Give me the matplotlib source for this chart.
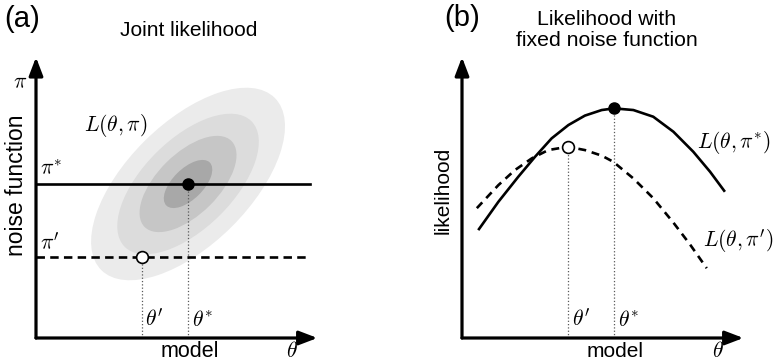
import matplotlib.pyplot as plt
from matplotlib.patches import Ellipse

plt.rcParams['font.family'] = ['Liberation Sans', 'DejaVu Sans']
plt.rcParams['mathtext.fontset'] = 'cm'

# Fitted and fixed parameter values (same units on both panels)
theta_star = 5.43
theta_prime = 3.79
pi_star = 5.54
pi_prime = 2.91

# Joint likelihood contours: outer semi-axes and relative level sizes
joint_semi_major = 4.38
joint_semi_minor = 2.19
joint_angle = 45
joint_levels = [1.0, 0.73, 0.5, 0.25]

# Likelihood along theta with pi fixed at pi*
theta_on_star = [0.58, 1.30, 2.01, 2.61, 3.20, 3.80, 4.39, 4.99, 5.43,
                 6.12, 6.83, 7.55, 8.26, 8.86, 9.39]
lik_star = [3.88, 4.90, 5.80, 6.52, 7.18, 7.66, 8.00, 8.20, 8.26,
            8.20, 7.96, 7.42, 6.70, 5.98, 5.26]

# Likelihood along theta with pi fixed at pi'
theta_on_prime = [0.53, 1.30, 1.89, 2.49, 3.08, 3.78, 4.39, 4.99, 5.40,
                  6.12, 6.83, 7.55, 8.14, 8.74]
lik_prime = [4.67, 5.50, 6.04, 6.46, 6.76, 6.88, 6.76, 6.56, 6.34,
             5.74, 5.03, 4.15, 3.37, 2.51]

W, H = 774, 363
SHADES = ['#ebebeb', '#dcdcdc', '#c6c6c6', '#a8a8a8']
LW = 1.9


def fig_xy(px, py):
    return px / W, 1 - py / H


def draw_axes_arrows(ax):
    style = '-|>,head_length=1.1,head_width=0.42'
    for tip in [(10.05, 0), (0, 10.1)]:
        ax.annotate('', xy=tip, xytext=(0, 0), annotation_clip=False,
                    arrowprops=dict(arrowstyle=style, mutation_scale=10,
                                    lw=2.3, color='k', shrinkA=0, shrinkB=0))


def setup_axes(fig, left_px):
    ax = fig.add_axes([left_px / W, 25 / H, 280 / W, 278 / H])
    ax.set_xlim(0, 10)
    ax.set_ylim(0, 10)
    ax.axis('off')
    draw_axes_arrows(ax)
    return ax


def label(ax, x, y, s, size=15.5, **kw):
    ax.text(x, y, s, fontsize=size, clip_on=False, **kw)


fig = plt.figure(figsize=(W / 100, H / 100), dpi=100)

# (a) joint likelihood over model and noise function
ax = setup_axes(fig, 36)
for scale, shade in zip(joint_levels, SHADES):
    ax.add_patch(Ellipse((theta_star, pi_star),
                         2 * joint_semi_major * scale,
                         2 * joint_semi_minor * scale,
                         angle=joint_angle, color=shade, lw=0, zorder=1))
ax.plot([0, 9.8], [pi_star, pi_star], color='k', lw=LW, zorder=3)
ax.plot([0, 9.8], [pi_prime, pi_prime], color='k', lw=LW,
        dashes=(3.2, 2.0), zorder=3)
ax.plot([theta_star, theta_star], [0, pi_star], ':', color='0.35',
        lw=0.9, zorder=2)
ax.plot([theta_prime, theta_prime], [0, pi_prime], ':', color='0.35',
        lw=0.9, zorder=2)
ax.plot(theta_star, pi_star, 'o', ms=8, color='k', zorder=4)
ax.plot(theta_prime, pi_prime, 'o', ms=8.5, mfc='white', mec='k',
        mew=1.2, zorder=4)

label(ax, -0.57, 9.2, r'$\pi$', ha='center', va='center')
label(ax, -0.68, 5.5, 'noise function', size=16.5, rotation=90,
      ha='center', va='center')
label(ax, 2.86, 7.66, r'$L(\theta,\pi)$', ha='center', va='center')
label(ax, 0.14, pi_star + 0.12, r'$\pi^{*}$', ha='left', va='bottom')
label(ax, 0.14, pi_prime + 0.12, r'$\pi^\prime$', ha='left', va='bottom')
label(ax, theta_prime + 0.1, 0.25, r'$\theta^\prime$', ha='left',
      va='bottom')
label(ax, theta_star + 0.14, 0.25, r'$\theta^{*}$', ha='left', va='bottom')
label(ax, 5.5, -0.5, 'model', ha='center', va='center')
label(ax, 9.14, -0.5, r'$\theta$', ha='center', va='center')

# (b) likelihood with the noise function held fixed
bx = setup_axes(fig, 462)
bx.plot(theta_on_star, lik_star, color='k', lw=LW, zorder=3,
        solid_capstyle='butt')
bx.plot(theta_on_prime, lik_prime, color='k', lw=LW, dashes=(3.0, 2.2),
        zorder=3)
bx.plot([theta_star, theta_star], [0, max(lik_star)], ':', color='0.35',
        lw=0.9, zorder=2)
bx.plot([theta_prime, theta_prime], [0, max(lik_prime)], ':',
        color='0.35', lw=0.9, zorder=2)
bx.plot(theta_star, max(lik_star), 'o', ms=8, color='k', zorder=4)
bx.plot(theta_prime, max(lik_prime), 'o', ms=8.5, mfc='white', mec='k',
        mew=1.2, zorder=4)

label(bx, -0.68, 5.32, 'likelihood', size=15, rotation=90, ha='center',
      va='center')
label(bx, 8.39, 7.05, r'$L(\theta,\pi^{*})$', ha='left', va='center')
label(bx, 8.62, 3.49, r'$L(\theta,\pi^\prime)$', ha='left', va='center')
label(bx, theta_prime + 0.14, 0.25, r'$\theta^\prime$', ha='left',
      va='bottom')
label(bx, theta_star + 0.14, 0.25, r'$\theta^{*}$', ha='left', va='bottom')
label(bx, 5.46, -0.5, 'model', size=15, ha='center', va='center')
label(bx, 9.14, -0.5, r'$\theta$', ha='center', va='center')

# Panel letters and titles
fig.text(*fig_xy(4, 19), '(a)', fontsize=21, ha='left', va='center')
fig.text(*fig_xy(189, 30), 'Joint likelihood', fontsize=15,
         ha='center', va='center')
fig.text(*fig_xy(444, 18), '(b)', fontsize=21, ha='left', va='center')
fig.text(*fig_xy(607, 30), 'Likelihood with\nfixed noise function',
         fontsize=15.3, ha='center', va='center', linespacing=1.15)

fig.savefig('out.png', dpi=100)
